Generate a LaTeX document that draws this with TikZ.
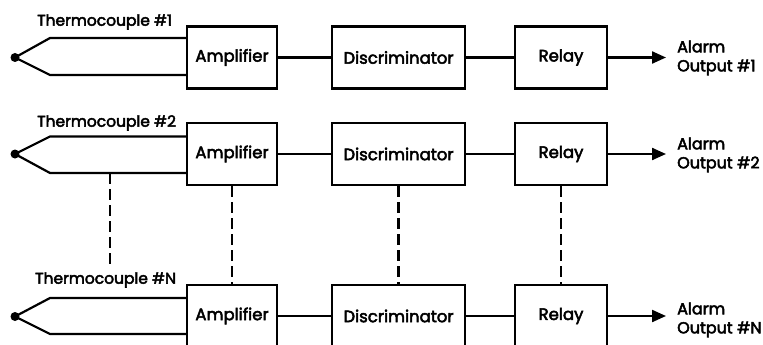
\documentclass[tikz,border=0pt]{standalone}
\usepackage{fontspec}
\setmainfont{Poppins}[UprightFeatures={FakeBold=3}]
\usetikzlibrary{arrows.meta}
\begin{document}
\begin{tikzpicture}[x=1pt,y=-1pt,
  blk/.style={draw, line width=2.2pt, minimum height=62pt, inner sep=0pt, font=\fontsize{16.5}{16.5}\selectfont},
  wire/.style={line width=2.2pt},
  arr/.style={line width=2.2pt, -{Triangle[length=14pt,width=12pt]}},
  dsh/.style={line width=2.2pt, dash pattern=on 11pt off 5pt},
  lbl/.style={font=\fontsize{15.5}{15.5}\selectfont, inner sep=0pt, anchor=west},
  outl/.style={font=\fontsize{16}{19}\selectfont, inner sep=0pt, anchor=west, align=left},
  tcdot/.style={circle, fill, inner sep=0pt, minimum size=9pt}]
\useasboundingbox (0,0) rectangle (763,345);
\clip (0,0) rectangle (763,345);
% row 1
\node[blk, minimum width=90pt] (amp1) at (232,57.5) {Amplifier};
\node[blk, minimum width=133pt] (dis1) at (398.5,57.5) {Discriminator};
\node[blk, minimum width=92pt] (rel1) at (561,57.5) {Relay};
\node[tcdot] (tc1) at (15,57.5) {};
\coordinate (tc1u) at (50,38);
\coordinate (tc1d) at (50,75);
\coordinate (a1) at (666,57.5);
\node[lbl] (lab1) at (37,22) {Thermocouple \#1};
\node[outl] (o1) at (677,58) {Alarm\\Output \#1};
% row 2
\node[blk, minimum width=90pt] (amp2) at (232,154) {Amplifier};
\node[blk, minimum width=133pt] (dis2) at (398.5,154) {Discriminator};
\node[blk, minimum width=92pt] (rel2) at (561,154) {Relay};
\node[tcdot] (tc2) at (15,154) {};
\coordinate (tc2u) at (50,136.5);
\coordinate (tc2d) at (50,173);
\coordinate (a2) at (666,154);
\node[lbl] (lab2) at (37,123) {Thermocouple \#2};
\node[outl] (o2) at (677,155) {Alarm\\Output \#2};
% row N
\node[blk, minimum width=90pt] (ampN) at (232,316) {Amplifier};
\node[blk, minimum width=133pt] (disN) at (398.5,316) {Discriminator};
\node[blk, minimum width=92pt] (relN) at (561,316) {Relay};
\node[tcdot] (tcN) at (15,316.5) {};
\coordinate (tcNu) at (50,298);
\coordinate (tcNd) at (50,334);
\coordinate (aN) at (666,316);
\node[lbl] (labN) at (35,280) {Thermocouple \#N};
\node[outl] (oN) at (677,320) {Alarm\\Output \#N};
% connectors
\foreach \r in {1,2,N}{
  \draw[wire] (tc\r.center) -- (tc\r u) -- (tc\r u -| amp\r.west);
  \draw[wire] (tc\r.center) -- (tc\r d) -- (tc\r d -| amp\r.west);
  \draw[wire] (amp\r) -- (dis\r);
  \draw[wire] (dis\r) -- (rel\r);
  \draw[arr] (rel\r.east) -- (a\r);
}
\coordinate (td2) at (110,173);
\coordinate (tdN) at (110,264);
\draw[dsh] (td2) -- (tdN);
\draw[dsh] (amp2.south) -- (ampN.north);
\draw[dsh] (dis2.south) -- (disN.north);
\draw[dsh] (rel2.south) -- (relN.north);
\end{tikzpicture}
\end{document}
